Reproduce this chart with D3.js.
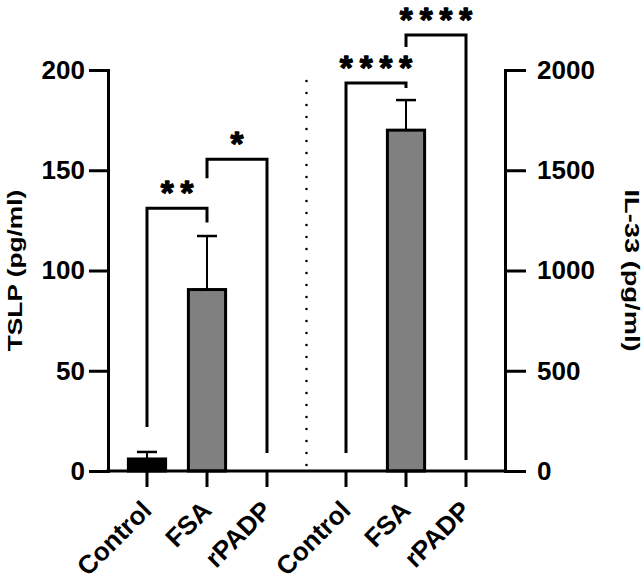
<!DOCTYPE html>
<html>
<head>
<meta charset="utf-8">
<script src="https://cdn.jsdelivr.net/npm/d3@7"></script>
<style>
  body { margin: 0; background: #fff; }
  text { font-family: Arial, "Liberation Sans", Helvetica, sans-serif; font-weight: bold; fill: #000; }
</style>
</head>
<body>
<svg id="chart"></svg>
<script>
window.addEventListener("load", main);

const WIDTH = 643;
const HEIGHT = 584;

const PLOT = { left: 108, right: 505, top: 70, bottom: 471 };

// data
const GROUPS = ["TSLP", "IL-33"];
const CATEGORIES = ["Control", "FSA", "rPADP"];
const BAR_FILLS = ["#000000", "#808080", "#ffffff"];

const TSLP_MEANS = [6, 90.5, 0];
const TSLP_ERRORS = [3.5, 26.7, 0];
const IL33_MEANS = [0, 1700, 0];
const IL33_ERRORS = [0, 150, 0];

const TSLP_TICKS = [0, 50, 100, 150, 200];
const IL33_TICKS = [0, 500, 1000, 1500, 2000];

// significance brackets: [from, to, top, left leg end, right leg end, label]
const TSLP_COMPARISONS = [
    ["Control", "FSA", 131, 22, 124, "**"],
    ["FSA", "rPADP", 155.5, 146, 9, "*"]
];
const IL33_COMPARISONS = [
    ["Control", "FSA", 1935, 90, 1910, "****"],
    ["FSA", "rPADP", 2175, 2115, 55, "****"]
];

function drawGroup(svg, name, yScale, means, errors, comparisons, xGroup, xCat){
    var g = svg.append("g")
        .attr("transform", "translate(" + xGroup(name) + ",0)");

    var rows = CATEGORIES.map((c, i)=>({cat: c, mean: means[i], err: errors[i], fill: BAR_FILLS[i]}));
    var barW = xCat.bandwidth() * 0.62;

    // bars
    g.selectAll("rect.bar")
        .data(rows.filter(d=>d.mean > 0))
        .enter()
        .append("rect")
        .attr("class", "bar")
        .attr("x", d=>xCat(d.cat) + xCat.bandwidth() / 2 - barW / 2)
        .attr("y", d=>yScale(d.mean))
        .attr("width", barW)
        .attr("height", d=>yScale(0) - yScale(d.mean))
        .attr("fill", d=>d.fill)
        .attr("stroke", "#000")
        .attr("stroke-width", 3);

    // error bars (upper only)
    var eb = g.selectAll("g.err")
        .data(rows.filter(d=>d.err > 0))
        .enter()
        .append("g")
        .attr("class", "err")
        .attr("transform", d=>"translate(" + (xCat(d.cat) + xCat.bandwidth() / 2) + ",0)");
    eb.append("line")
        .attr("y1", d=>yScale(d.mean))
        .attr("y2", d=>yScale(d.mean + d.err))
        .attr("stroke", "#000")
        .attr("stroke-width", 2);
    eb.append("line")
        .attr("x1", -10).attr("x2", 10)
        .attr("y1", d=>yScale(d.mean + d.err))
        .attr("y2", d=>yScale(d.mean + d.err))
        .attr("stroke", "#000")
        .attr("stroke-width", 2.5);

    // category ticks + labels
    var axis = d3.axisBottom(xCat).tickSize(16).tickSizeOuter(0).tickFormat("");
    var ax = g.append("g")
        .attr("transform", "translate(0," + yScale(0) + ")")
        .call(axis);
    ax.select(".domain").remove();
    ax.selectAll(".tick line").attr("stroke-width", 3);

    g.selectAll("text.cat")
        .data(CATEGORIES)
        .enter()
        .append("text")
        .attr("class", "cat")
        .attr("text-anchor", "end")
        .attr("font-size", 26)
        .attr("transform", d=>"translate(" + (xCat(d) + xCat.bandwidth() / 2 + 6) + "," + (yScale(0) + 41) + ") rotate(-45)")
        .text(d=>d);

    // brackets
    var mid = d=>xCat(d) + xCat.bandwidth() / 2;
    g.selectAll("path.bracket")
        .data(comparisons)
        .enter()
        .append("path")
        .attr("class", "bracket")
        .attr("fill", "none")
        .attr("stroke", "#000")
        .attr("stroke-width", 3)
        .attr("d", d=>{
            var p = d3.path();
            p.moveTo(mid(d[0]), yScale(d[3]));
            p.lineTo(mid(d[0]), yScale(d[2]));
            p.lineTo(mid(d[1]), yScale(d[2]));
            p.lineTo(mid(d[1]), yScale(d[4]));
            return p.toString();
        });
    g.selectAll("text.star")
        .data(comparisons)
        .enter()
        .append("text")
        .attr("class", "star")
        .attr("text-anchor", "middle")
        .attr("font-size", 33)
        .attr("letter-spacing", 7)
        .attr("stroke", "#000")
        .attr("stroke-width", 1.3)
        .attr("stroke-linejoin", "round")
        .attr("x", d=>(mid(d[0]) + mid(d[1])) / 2 + 3.5)
        .attr("y", d=>yScale(d[2]) - 4)
        .text(d=>d[5]);
}

function main(){
    var svg = d3.select("#chart")
        .attr("width", WIDTH)
        .attr("height", HEIGHT);

    svg.append("rect").attr("width", WIDTH).attr("height", HEIGHT).attr("fill", "#fff");

    var yLeft = d3.scaleLinear().domain([0, 200]).range([PLOT.bottom, PLOT.top]);
    var yRight = d3.scaleLinear().domain([0, 2000]).range([PLOT.bottom, PLOT.top]);

    var xGroup = d3.scaleBand()
        .domain(GROUPS)
        .range([PLOT.left, PLOT.right])
        .paddingInner(0.0955)
        .paddingOuter(0.0452);
    var xCat = d3.scaleBand()
        .domain(CATEGORIES)
        .range([0, xGroup.bandwidth()]);

    // divider between the two panels
    var divX = (xGroup("TSLP") + xGroup.bandwidth() + xGroup("IL-33")) / 2;
    svg.append("line")
        .attr("x1", divX).attr("x2", divX)
        .attr("y1", PLOT.bottom - 6).attr("y2", PLOT.top)
        .attr("stroke", "#000")
        .attr("stroke-width", 2.6)
        .attr("stroke-linecap", "round")
        .attr("stroke-dasharray", "0,12");

    drawGroup(svg, "TSLP", yLeft, TSLP_MEANS, TSLP_ERRORS, TSLP_COMPARISONS, xGroup, xCat);
    drawGroup(svg, "IL-33", yRight, IL33_MEANS, IL33_ERRORS, IL33_COMPARISONS, xGroup, xCat);

    // baseline
    svg.append("line")
        .attr("x1", PLOT.left).attr("x2", PLOT.right)
        .attr("y1", PLOT.bottom).attr("y2", PLOT.bottom)
        .attr("stroke", "#000")
        .attr("stroke-width", 3)
        .attr("stroke-linecap", "square");

    // y axes
    var left = svg.append("g")
        .attr("transform", "translate(" + PLOT.left + ",0)")
        .call(d3.axisLeft(yLeft).tickValues(TSLP_TICKS).tickFormat(d3.format("d"))
            .tickSize(19).tickSizeOuter(0).tickPadding(4));
    var right = svg.append("g")
        .attr("transform", "translate(" + PLOT.right + ",0)")
        .call(d3.axisRight(yRight).tickValues(IL33_TICKS).tickFormat(d3.format("d"))
            .tickSize(21).tickSizeOuter(0).tickPadding(11));
    [left, right].forEach(a=>{
        a.select(".domain").attr("stroke-width", 3).attr("stroke-linecap", "square");
        a.selectAll(".tick line").attr("stroke-width", 3);
        a.selectAll(".tick text")
            .attr("font-size", 26)
            .attr("font-family", "Arial, 'Liberation Sans', sans-serif")
            .attr("font-weight", "bold")
            .attr("fill", "#000");
    });

    // axis titles (the figure's titles are drawn narrow and long, hence the scale)
    svg.append("text")
        .attr("text-anchor", "middle")
        .attr("font-size", 21)
        .attr("transform", "translate(22," + (PLOT.top + PLOT.bottom) / 2 + ") rotate(-90) scale(1.25,1)")
        .text("TSLP (pg/ml)");
    svg.append("text")
        .attr("text-anchor", "middle")
        .attr("font-size", 21)
        .attr("transform", "translate(625," + (PLOT.top + PLOT.bottom) / 2 + ") rotate(90) scale(1.3,1)")
        .text("IL-33 (pg/ml)");
}
</script>
</body>
</html>
